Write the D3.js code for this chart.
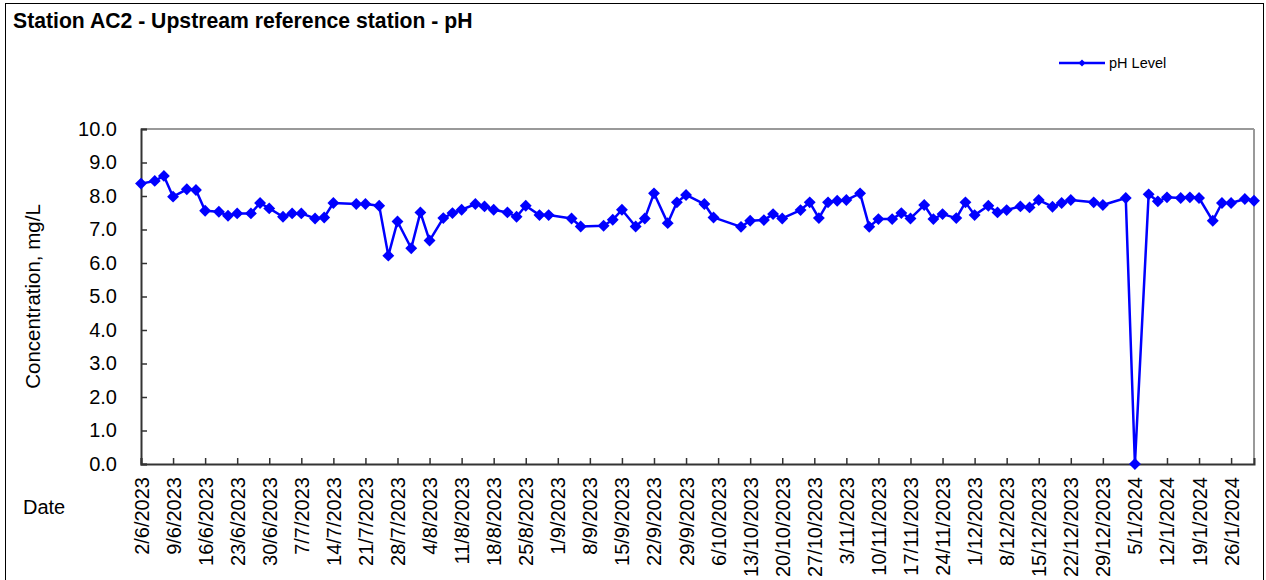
<!DOCTYPE html>
<html>
<head>
<meta charset="utf-8">
<script src="https://cdn.jsdelivr.net/npm/d3@7"></script>
<style>
  html, body { margin: 0; padding: 0; background: #fff; }
  svg { display: block; font-family: "Liberation Sans", Arial, sans-serif; }
</style>
</head>
<body>
<svg id="chart" width="1266" height="580"></svg>
<script>
const dates = ["2023-06-02","2023-06-05","2023-06-07","2023-06-09","2023-06-12","2023-06-14","2023-06-16","2023-06-19","2023-06-21","2023-06-23","2023-06-26","2023-06-28","2023-06-30","2023-07-03","2023-07-05","2023-07-07","2023-07-10","2023-07-12","2023-07-14","2023-07-19","2023-07-21","2023-07-24","2023-07-26","2023-07-28","2023-07-31","2023-08-02","2023-08-04","2023-08-07","2023-08-09","2023-08-11","2023-08-14","2023-08-16","2023-08-18","2023-08-21","2023-08-23","2023-08-25","2023-08-28","2023-08-30","2023-09-04","2023-09-06","2023-09-11","2023-09-13","2023-09-15","2023-09-18","2023-09-20","2023-09-22","2023-09-25","2023-09-27","2023-09-29","2023-10-03","2023-10-05","2023-10-11","2023-10-13","2023-10-16","2023-10-18","2023-10-20","2023-10-24","2023-10-26","2023-10-28","2023-10-30","2023-11-01","2023-11-03","2023-11-06","2023-11-08","2023-11-10","2023-11-13","2023-11-15","2023-11-17","2023-11-20","2023-11-22","2023-11-24","2023-11-27","2023-11-29","2023-12-01","2023-12-04","2023-12-06","2023-12-08","2023-12-11","2023-12-13","2023-12-15","2023-12-18","2023-12-20","2023-12-22","2023-12-27","2023-12-29","2024-01-03","2024-01-05","2024-01-08","2024-01-10","2024-01-12","2024-01-15","2024-01-17","2024-01-19","2024-01-22","2024-01-24","2024-01-26","2024-01-29","2024-01-31"];

const phValues = [8.37,8.45,8.6,7.98,8.2,8.18,7.56,7.53,7.41,7.48,7.48,7.79,7.63,7.38,7.48,7.48,7.33,7.36,7.79,7.76,7.76,7.71,6.22,7.24,6.44,7.51,6.67,7.34,7.49,7.59,7.76,7.69,7.59,7.51,7.38,7.71,7.43,7.43,7.33,7.09,7.11,7.29,7.59,7.09,7.33,8.08,7.19,7.81,8.03,7.76,7.36,7.08,7.26,7.28,7.46,7.33,7.58,7.81,7.34,7.81,7.86,7.88,8.08,7.08,7.31,7.31,7.49,7.33,7.73,7.31,7.46,7.34,7.81,7.43,7.71,7.51,7.58,7.69,7.66,7.88,7.68,7.79,7.88,7.81,7.73,7.94,0,8.05,7.84,7.96,7.94,7.96,7.94,7.26,7.79,7.79,7.91,7.86];

const tickDates = ["2023-06-02","2023-06-09","2023-06-16","2023-06-23","2023-06-30","2023-07-07","2023-07-14","2023-07-21","2023-07-28","2023-08-04","2023-08-11","2023-08-18","2023-08-25","2023-09-01","2023-09-08","2023-09-15","2023-09-22","2023-09-29","2023-10-06","2023-10-13","2023-10-20","2023-10-27","2023-11-03","2023-11-10","2023-11-17","2023-11-24","2023-12-01","2023-12-08","2023-12-15","2023-12-22","2023-12-29","2024-01-05","2024-01-12","2024-01-19","2024-01-26"];

const yTicks = [0,1,2,3,4,5,6,7,8,9,10];
const xDomain = ["2023-06-02","2024-01-31"];

const title = "Station AC2 - Upstream reference station - pH";
const yLabel = "Concentration, mg/L";
const xLabel = "Date";
const seriesName = "pH Level";

const parse = d3.utcParse("%Y-%m-%d");
const fmt = d3.utcFormat("%-d/%-m/%Y");
const data = dates.map((d, i) => ({ date: parse(d), value: phValues[i] }));

const svg = d3.select("#chart");
const plot = { left: 141, right: 1254, top: 129, bottom: 464 };

const x = d3.scaleUtc().domain(xDomain.map(parse)).range([plot.left, plot.right]);
const y = d3.scaleLinear().domain([0, 10]).range([plot.bottom, plot.top]);

// outer border
svg.append("rect").attr("x", 5.5).attr("y", 3.5).attr("width", 1258).attr("height", 600)
  .attr("fill", "none").attr("stroke", "#000").attr("stroke-width", 1);

// title
svg.append("text").attr("x", 13).attr("y", 28).attr("font-size", 21.2).attr("font-weight", "bold")
  .attr("fill", "#000").text(title);

// plot frame (top and right in gray)
svg.append("line").attr("x1", plot.left).attr("x2", plot.right).attr("y1", plot.top).attr("y2", plot.top)
  .attr("stroke", "#999").attr("stroke-width", 2);
svg.append("line").attr("x1", plot.right).attr("x2", plot.right).attr("y1", plot.top).attr("y2", plot.bottom)
  .attr("stroke", "#999").attr("stroke-width", 2);

// y axis
const yAxis = d3.axisRight(y).tickValues(yTicks).tickSize(6).tickFormat(d3.format(".1f"));
const gy = svg.append("g").attr("transform", `translate(${plot.left},0)`).call(yAxis);
gy.select(".domain").attr("stroke", "#333").attr("stroke-width", 2);
gy.selectAll(".tick line").attr("stroke", "#333").attr("stroke-width", 1.5);
gy.selectAll(".tick text").attr("x", -24).attr("text-anchor", "end").attr("font-size", 20)
  .attr("fill", "#000").attr("font-family", "Liberation Sans, Arial, sans-serif");

// x axis
const xAxis = d3.axisTop(x).tickValues(tickDates.map(parse)).tickSize(6).tickFormat(fmt);
const gx = svg.append("g").attr("transform", `translate(0,${plot.bottom})`).call(xAxis);
gx.select(".domain").attr("stroke", "#333").attr("stroke-width", 2);
gx.selectAll(".tick line").attr("stroke", "#333").attr("stroke-width", 1.5);
gx.selectAll(".tick text")
  .attr("transform", "rotate(-90)")
  .attr("x", -13).attr("y", 0).attr("dy", "0.35em")
  .attr("text-anchor", "end").attr("font-size", 20).attr("fill", "#000")
  .attr("font-family", "Liberation Sans, Arial, sans-serif");

// axis labels
svg.append("text").attr("transform", `translate(40,${(plot.top + plot.bottom) / 2}) rotate(-90)`)
  .attr("text-anchor", "middle").attr("font-size", 20.5).attr("fill", "#000").text(yLabel);
svg.append("text").attr("x", 23).attr("y", 514).attr("font-size", 20).attr("fill", "#000").text(xLabel);

// line
const line = d3.line().x(d => x(d.date)).y(d => y(d.value));
svg.append("path").datum(data).attr("d", line).attr("fill", "none")
  .attr("stroke", "#0000FF").attr("stroke-width", 2.5).attr("stroke-linejoin", "round");

// markers
const sym = d3.symbol().type(d3.symbolDiamond2).size(90);
svg.append("g").selectAll("path").data(data).join("path")
  .attr("transform", d => `translate(${x(d.date)},${y(d.value)})`)
  .attr("d", sym).attr("fill", "#0000FF");

// legend
const lg = svg.append("g");
lg.append("line").attr("x1", 1059).attr("x2", 1105).attr("y1", 63).attr("y2", 63)
  .attr("stroke", "#0000FF").attr("stroke-width", 2.5);
lg.append("path").attr("transform", "translate(1082,63)").attr("d", d3.symbol().type(d3.symbolDiamond2).size(32))
  .attr("fill", "#0000FF");
lg.append("text").attr("x", 1109).attr("y", 68).attr("font-size", 14.5).attr("fill", "#000").text(seriesName);
</script>
</body>
</html>
